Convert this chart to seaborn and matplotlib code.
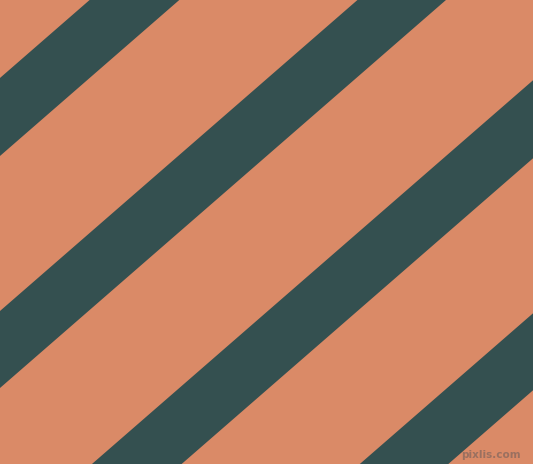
import numpy as np
import pandas as pd
import seaborn as sns
import matplotlib
matplotlib.use('Agg')
import matplotlib.pyplot as plt

# stripe edges as lines y = c - slope * x (pixel coords, y down)
upper_intercepts = [78, 311, 544, 777]
lower_intercepts = [156, 388, 622, 854]
slope = 0.87
x_range = [0, 533]
y_range = [0, 464]

bg_color = '#DA8A67'
stripe_color = '#345050'

sns.set_theme(style='white')

fig = plt.figure(figsize=(5.3305, 4.6405), dpi=100)
ax = fig.add_axes([0, 0, 1, 1])
ax.set_facecolor(bg_color)

x = np.array(x_range, dtype=float)
for c_up, c_low in zip(upper_intercepts, lower_intercepts):
    df = pd.DataFrame({'x': x, 'top': c_up - slope * x, 'bottom': c_low - slope * x})
    ax.fill_between(df['x'], df['top'], df['bottom'], color=stripe_color, linewidth=0)

ax.set_xlim(x_range)
ax.set_ylim(y_range[1], y_range[0])
ax.axis('off')
fig.patch.set_facecolor(bg_color)

# watermark
ax.text(521, 458, 'pixlis.com', ha='right', va='baseline', fontsize=7.5,
        color='#9a7060', family='DejaVu Sans', fontweight='bold')

fig.savefig('out.png', dpi=100, facecolor=bg_color)
